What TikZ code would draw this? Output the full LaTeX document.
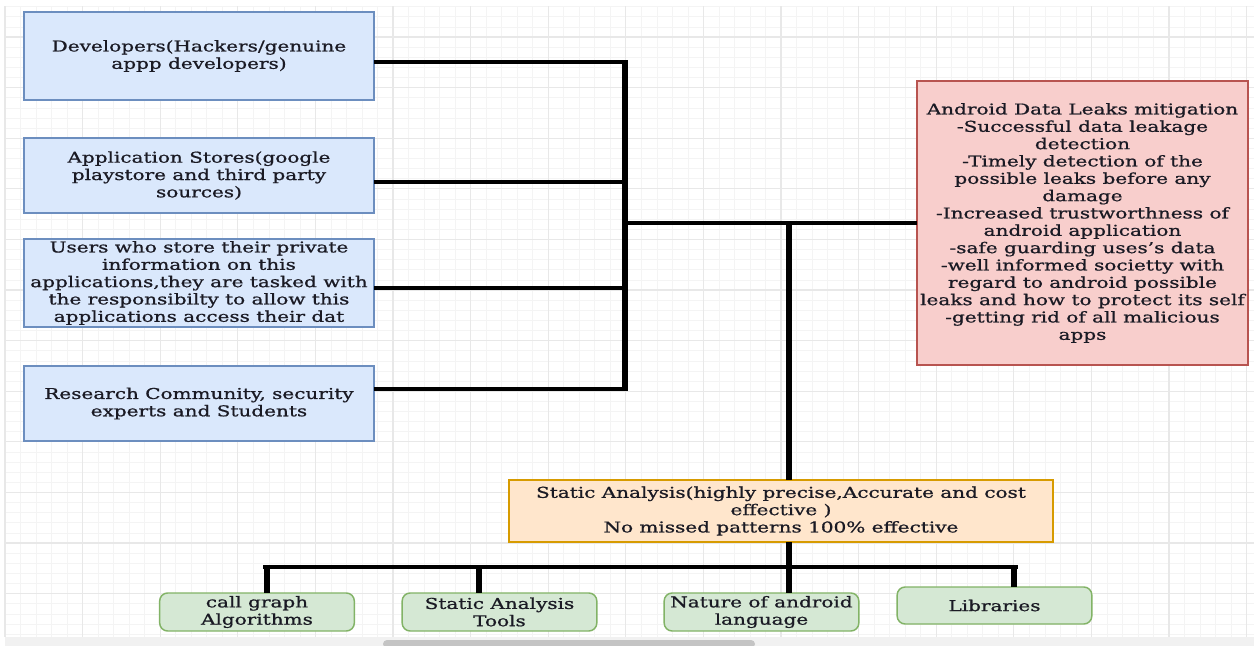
\documentclass[tikz,border=0pt]{standalone}
\usepackage{fontspec}
\setmainfont{DejaVu Serif}[FakeStretch=1.34, FakeBold=0.9]
\usetikzlibrary{calc}

\definecolor{gridminor}{HTML}{F4F4F4}
\definecolor{gridmajor}{HTML}{E8E8E8}
\definecolor{bluefill}{HTML}{DAE8FC}
\definecolor{blueline}{HTML}{6C8EBF}
\definecolor{redfill}{HTML}{F8CECC}
\definecolor{redline}{HTML}{B85450}
\definecolor{orangefill}{HTML}{FFE6CC}
\definecolor{orangeline}{HTML}{D79B00}
\definecolor{greenfill}{HTML}{D5E8D4}
\definecolor{greenline}{HTML}{82B366}
\definecolor{inktext}{HTML}{1A1A24}
\definecolor{scrolltrack}{HTML}{F1F1F1}
\definecolor{scrollthumb}{HTML}{C4C4C4}

\tikzset{
  boxbase/.style={draw, line width=1.1pt, inner sep=0pt, outer sep=0pt,
    align=center, text=inktext, font=\fontsize{11.2}{13}\selectfont},
  bluebox/.style={boxbase, fill=bluefill, draw=blueline,
    minimum width=262.5pt},
  redbox/.style={boxbase, fill=redfill, draw=redline,
    minimum width=248.25pt, minimum height=213pt},
  orangebox/.style={boxbase, fill=orangefill, draw=orangeline,
    minimum width=408pt, minimum height=46.5pt},
  greenbox/.style={boxbase, fill=greenfill, draw=greenline, rounded corners=6pt,
    minimum width=146pt},
  arm/.style={line width=3pt, black},
  bus/.style={line width=5pt, black},
}

\begin{document}
\begin{tikzpicture}[x=0.75pt, y=-0.75pt]
  % page
  \fill[white] (0,0) rectangle (1254,646);
  \useasboundingbox (0,0) rectangle (1254,646);

  % background grid: minor lines first, major lines on top
  \foreach \i in {0,...,80} {
    \pgfmathsetmacro{\gx}{5+15.52*\i}
    \draw[gridminor, line width=0.5pt] (\gx,6) -- (\gx,637);
  }
  \foreach \k in {-3,...,59} {
    \pgfmathsetmacro{\gy}{37+10.12*\k}
    \draw[gridminor, line width=0.5pt] (5,\gy) -- (1254,\gy);
  }
  \foreach \i in {0,...,16} {
    \pgfmathsetmacro{\gx}{5+77.6*\i}
    \draw[gridmajor, line width=0.8pt] (\gx,6) -- (\gx,637);
  }
  \foreach \k in {0,...,11} {
    \pgfmathsetmacro{\gy}{37+50.6*\k}
    \draw[gridmajor, line width=0.8pt] (5,\gy) -- (1254,\gy);
  }

  % scroll bar
  \fill[scrolltrack] (5,637) rectangle (1254,646);
  \fill[scrollthumb, rounded corners=3pt] (383,640) rectangle (755,648);

  % stakeholders
  \node[bluebox, minimum height=66pt] (dev) at (199,56)
    {Developers(Hackers/genuine\\appp developers)};
  \node[bluebox, minimum height=56.25pt] (app) at (199,175.5)
    {Application Stores(google\\playstore and third party\\sources)};
  \node[bluebox, minimum height=66pt] (usr) at (199,283)
    {Users who store their private\\information on this\\applications,they are tasked with\\the responsibilty to allow this\\applications access their dat};
  \node[bluebox, minimum height=56.25pt] (res) at (199,403.5)
    {Research Community, security\\experts and Students};

  % outcome
  \node[redbox] (goal) at (1082.5,223)
    {Android Data Leaks mitigation\\-Successful data leakage\\detection\\-Timely detection of the\\possible leaks before any\\damage\\-Increased trustworthness of\\android application\\-safe guarding uses's data\\-well informed societty with\\regard to android possible\\leaks and how to protect its self\\-getting rid of all malicious\\apps};

  % method
  \node[orangebox] (sa) at (781,511)
    {Static Analysis(highly precise,Accurate and cost\\effective )\\No missed patterns 100\% effective};

  % aspects
  \node[greenbox, minimum height=28.5pt] (cg) at (257,612) {call graph\\Algorithms};
  \node[greenbox, minimum height=28.5pt] (tools) at (499.5,612) {Static Analysis\\Tools};
  \node[greenbox, minimum height=28.5pt] (lang) at (761.5,612) {Nature of android\\language};
  \node[greenbox, minimum height=27.75pt] (lib) at (994.5,605.5) {Libraries};

  % junction points
  \coordinate (lj) at (625,223);
  \coordinate (tj) at (789,223);
  \coordinate (devA) at ($(dev.north east)!0.57!(dev.south east)$);
  \coordinate (appA) at ($(app.north east)!0.58!(app.south east)$);
  \coordinate (usrA) at ($(usr.north east)!0.557!(usr.south east)$);
  \coordinate (resA) at ($(res.north east)!0.31!(res.south east)$);
  \coordinate (s1) at (267,567);
  \coordinate (s2) at (479,567);
  \coordinate (s3) at (789,567);
  \coordinate (s4) at (1014,567);

  % stakeholders to the collecting bar
  \draw[arm] (devA) -- (devA -| lj);
  \draw[arm] (appA) -- (appA -| lj);
  \draw[arm] (usrA) -- (usrA -| lj);
  \draw[arm] (resA) -- (resA -| lj);
  \draw[bus] ($(devA -| lj)+(0,-2)$) -- ($(resA -| lj)+(0,2)$);

  % collecting bar to the outcome and down to static analysis
  \draw[arm] (lj) -- (goal.west);
  \draw[bus] (tj) -- (tj |- sa.north);
  \draw[bus] (tj |- sa.south) -- (tj |- lang.north);

  % static analysis to its aspects
  \draw[arm] ($(s1)+(-4,0)$) -- ($(s4)+(4,0)$);
  \draw[bus] (s1) -- (s1 |- cg.north);
  \draw[bus] (s2) -- (s2 |- tools.north);
  \draw[bus] (s4) -- (s4 |- lib.north);
\end{tikzpicture}
\end{document}
